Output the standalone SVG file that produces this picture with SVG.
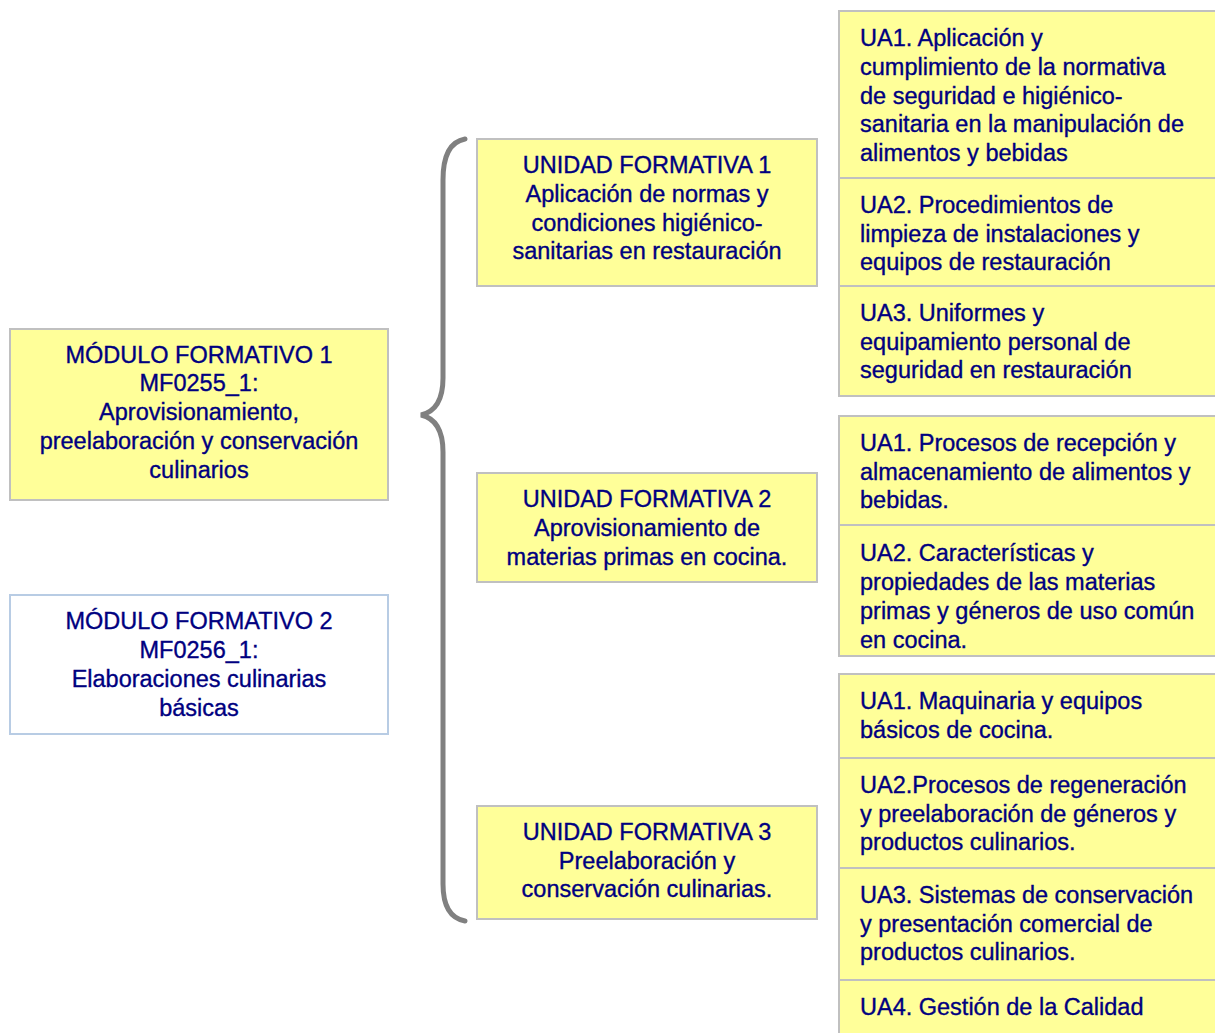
<svg xmlns="http://www.w3.org/2000/svg" width="1215" height="1033" viewBox="0 0 1215 1033">
<defs>
<style>
.y{fill:#ffff99;stroke:#c0c0c0;stroke-width:2}
.w{fill:#ffffff;stroke:#b8cce4;stroke-width:2}
text{font-family:"Liberation Sans",Arial,sans-serif;font-size:23.5px;fill:#000080;stroke:#000080;stroke-width:0.35}
.c{text-anchor:middle}
.brace{fill:none;stroke:#808080;stroke-width:5;stroke-linecap:round}
</style>
<clipPath id="clip2"><rect x="839" y="416" width="380" height="239"/></clipPath>
</defs>
<rect width="1215" height="1033" fill="#ffffff"/>
<g id="connectors">
<path class="brace" d="M465,139 Q443,143 443,180 L443,378 Q443,410 421,415 Q443,420 443,452 L443,884 Q443,917 465,921"/>
</g>
<g id="mf1">
<rect class="y" x="10" y="329" width="378" height="171"/>
<text class="c" x="199" y="363">MÓDULO FORMATIVO 1</text>
<text class="c" x="199" y="391">MF0255_1:</text>
<text class="c" x="199" y="420">Aprovisionamiento,</text>
<text class="c" x="199" y="449">preelaboración y conservación</text>
<text class="c" x="199" y="478">culinarios</text>
</g>
<g id="mf2">
<rect class="w" x="10" y="595" width="378" height="139"/>
<text class="c" x="199" y="629">MÓDULO FORMATIVO 2</text>
<text class="c" x="199" y="658">MF0256_1:</text>
<text class="c" x="199" y="687">Elaboraciones culinarias</text>
<text class="c" x="199" y="716">básicas</text>
</g>
<g id="uf1">
<rect class="y" x="477" y="139" width="340" height="147"/>
<text class="c" x="647" y="173">UNIDAD FORMATIVA 1</text>
<text class="c" x="647" y="202">Aplicación de normas y</text>
<text class="c" x="647" y="231">condiciones higiénico-</text>
<text class="c" x="647" y="259">sanitarias en restauración</text>
</g>
<g id="uf2">
<rect class="y" x="477" y="473" width="340" height="109"/>
<text class="c" x="647" y="507">UNIDAD FORMATIVA 2</text>
<text class="c" x="647" y="536">Aprovisionamiento de</text>
<text class="c" x="647" y="565">materias primas en cocina.</text>
</g>
<g id="uf3">
<rect class="y" x="477" y="806" width="340" height="113"/>
<text class="c" x="647" y="840">UNIDAD FORMATIVA 3</text>
<text class="c" x="647" y="869">Preelaboración y</text>
<text class="c" x="647" y="897">conservación culinarias.</text>
</g>
<g id="uf1-ua1">
<rect class="y" x="839" y="11" width="380" height="167"/>
<text x="860" y="46">UA1. Aplicación y</text>
<text x="860" y="75">cumplimiento de la normativa</text>
<text x="860" y="104">de seguridad e higiénico-</text>
<text x="860" y="132">sanitaria en la manipulación de</text>
<text x="860" y="161">alimentos y bebidas</text>
</g>
<g id="uf1-ua2">
<rect class="y" x="839" y="178" width="380" height="108"/>
<text x="860" y="213">UA2. Procedimientos de</text>
<text x="860" y="242">limpieza de instalaciones y</text>
<text x="860" y="270">equipos de restauración</text>
</g>
<g id="uf1-ua3">
<rect class="y" x="839" y="286" width="380" height="110"/>
<text x="860" y="321">UA3. Uniformes y</text>
<text x="860" y="350">equipamiento personal de</text>
<text x="860" y="378">seguridad en restauración</text>
</g>
<g id="uf2-ua1">
<rect class="y" x="839" y="416" width="380" height="109"/>
<text x="860" y="451">UA1. Procesos de recepción y</text>
<text x="860" y="480">almacenamiento de alimentos y</text>
<text x="860" y="508">bebidas.</text>
</g>
<g id="uf2-ua2">
<rect class="y" x="839" y="525" width="380" height="131"/>
<g clip-path="url(#clip2)">
<text x="860" y="561">UA2. Características y</text>
<text x="860" y="590">propiedades de las materias</text>
<text x="860" y="619">primas y géneros de uso común</text>
<text x="860" y="648">en cocina.</text>
</g>
</g>
<g id="uf3-ua1">
<rect class="y" x="839" y="674" width="380" height="84"/>
<text x="860" y="709">UA1. Maquinaria y equipos</text>
<text x="860" y="738">básicos de cocina.</text>
</g>
<g id="uf3-ua2">
<rect class="y" x="839" y="758" width="380" height="110"/>
<text x="860" y="793">UA2.Procesos de regeneración</text>
<text x="860" y="822">y preelaboración de géneros y</text>
<text x="860" y="850">productos culinarios.</text>
</g>
<g id="uf3-ua3">
<rect class="y" x="839" y="868" width="380" height="112"/>
<text x="860" y="903">UA3. Sistemas de conservación</text>
<text x="860" y="932">y presentación comercial de</text>
<text x="860" y="960">productos culinarios.</text>
</g>
<g id="uf3-ua4">
<rect class="y" x="839" y="980" width="380" height="60"/>
<text x="860" y="1015">UA4. Gestión de la Calidad</text>
</g>
</svg>
